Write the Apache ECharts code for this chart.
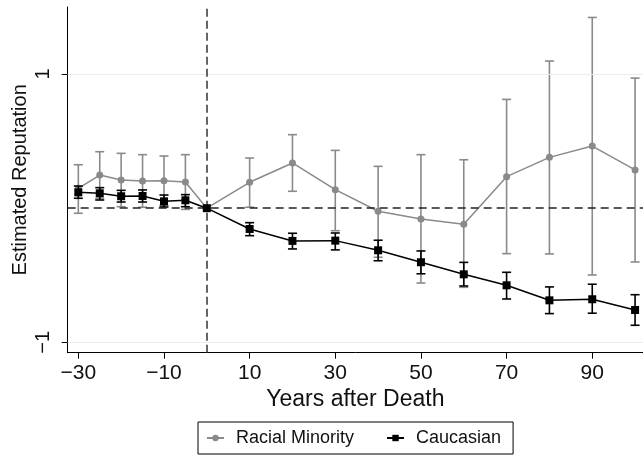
<!DOCTYPE html>
<html lang="en">
<head>
    <meta charset="UTF-8">
    <title>Estimated Reputation</title>
    <script type="text/javascript" src="https://cdn.jsdelivr.net/npm/echarts@6/dist/echarts.min.js"></script>
</head>
<body>
<div id="chart"></div>
</body>
<style>
    * {
        padding: 0;
        margin: 0;
    }

    html, body {
        width: 100%;
        height: 100%;
        background-color: white;
    }

    #chart {
        width: 643px;
        height: 456px;
    }
</style>
<script>

    // years relative to death
    const years = [-30, -25, -20, -15, -10, -5, 0, 10, 20, 30, 40, 50, 60, 70, 80, 90, 100]

    // racial minority: point estimate and confidence band
    const minorityMean = [0.148, 0.247, 0.210, 0.203, 0.205, 0.195, 0, 0.193, 0.337, 0.138, -0.023, -0.080, -0.120, 0.235, 0.379, 0.463, 0.285]
    const minorityHi = [0.324, 0.421, 0.409, 0.399, 0.389, 0.399, 0, 0.374, 0.548, 0.431, 0.312, 0.399, 0.361, 0.811, 1.097, 1.422, 0.970]
    const minorityLo = [-0.038, 0.073, 0.011, 0.007, 0.021, -0.009, 0, 0.007, 0.126, -0.168, -0.366, -0.558, -0.590, -0.339, -0.341, -0.498, -0.401]

    // caucasian: point estimate and confidence band
    const caucasianMean = [0.118, 0.111, 0.089, 0.091, 0.051, 0.059, 0, -0.155, -0.244, -0.242, -0.314, -0.403, -0.493, -0.575, -0.687, -0.679, -0.759]
    const caucasianHi = [0.165, 0.153, 0.133, 0.136, 0.098, 0.101, 0, -0.108, -0.187, -0.185, -0.239, -0.319, -0.404, -0.478, -0.587, -0.567, -0.645]
    const caucasianLo = [0.074, 0.061, 0.046, 0.046, 0.009, 0.011, 0, -0.205, -0.304, -0.311, -0.392, -0.489, -0.580, -0.677, -0.786, -0.783, -0.873]

    // axis ticks
    const xTicks = [-30, -10, 10, 30, 50, 70, 90]
    const yTicks = [-1, 1]

    const font = "'Liberation Sans', Arial, sans-serif"
    const gray = '#8a8a8a'
    const minus = v => String(v).replace('-', '\u2212')

    const errorBars = function (name, lo, hi, color, z) {
        return {
            type: 'custom',
            name: name,
            z: z,
            silent: true,
            data: years.map((y, i) => [y, lo[i], hi[i]]),
            encode: {x: 0, y: [1, 2]},
            renderItem(params, api) {
                const x = api.value(0), l = api.value(1), h = api.value(2)
                if (l === h) return
                const top = api.coord([x, h])
                const bot = api.coord([x, l])
                const w = 4.5
                const style = {stroke: color, lineWidth: 1.6}
                return {
                    type: 'group',
                    children: [
                        {type: 'line', shape: {x1: top[0], y1: top[1], x2: bot[0], y2: bot[1]}, style: style},
                        {type: 'line', shape: {x1: top[0] - w, y1: top[1], x2: top[0] + w, y2: top[1]}, style: style},
                        {type: 'line', shape: {x1: bot[0] - w, y1: bot[1], x2: bot[0] + w, y2: bot[1]}, style: style}
                    ]
                }
            }
        }
    }

    const chart = echarts.init(document.getElementById('chart'))

    chart.setOption({
        animation: false,
        textStyle: {fontFamily: font},
        grid: {left: 67.7, right: 0, top: 7, bottom: 103.3, outerBoundsMode: 'none', containLabel: false},
        legend: {
            data: ['Racial Minority', 'Caucasian'],
            left: 198,
            top: 422,
            orient: 'horizontal',
            borderColor: '#000',
            borderWidth: 1,
            borderRadius: 0,
            padding: [7, 12, 7, 8],
            itemGap: 32,
            itemWidth: 17,
            itemHeight: 8,
            textStyle: {fontSize: 18, color: '#111', fontFamily: font, padding: [0, 0, 0, 7]}
        },
        xAxis: {
            type: 'value',
            min: -32.48,
            max: 101.85,
            name: 'Years after Death',
            nameLocation: 'middle',
            nameGap: 32,
            nameTextStyle: {fontSize: 23, color: '#111', fontFamily: font},
            axisLine: {show: true, onZero: false, lineStyle: {color: '#000', width: 1}},
            axisTick: {show: true, customValues: xTicks, length: 6, lineStyle: {color: '#000', width: 1}},
            axisLabel: {customValues: xTicks, fontSize: 21, color: '#111', margin: 10, formatter: minus},
            splitLine: {show: false}
        },
        yAxis: {
            type: 'value',
            min: -1.0775,
            max: 1.5,
            name: 'Estimated Reputation',
            nameLocation: 'middle',
            nameRotate: 90,
            nameGap: 37,
            nameMoveOverlap: false,
            nameTextStyle: {fontSize: 20, color: '#111', fontFamily: font},
            axisLine: {show: true, onZero: false, lineStyle: {color: '#000', width: 1}},
            axisTick: {show: true, customValues: yTicks, length: 6, lineStyle: {color: '#000', width: 1}},
            axisLabel: {customValues: yTicks, fontSize: 20, color: '#111', rotate: 90, margin: 14, formatter: minus},
            splitLine: {show: false}
        },
        series: [
            {
                type: 'line',
                name: 'ref',
                data: [],
                z: 1,
                silent: true,
                markLine: {
                    silent: true,
                    symbol: 'none',
                    label: {show: false},
                    animation: false,
                    data: [
                        {yAxis: 1, lineStyle: {color: '#e6eeee', width: 1, type: 'solid'}},
                        {yAxis: -1, lineStyle: {color: '#e6eeee', width: 1, type: 'solid'}},
                        {yAxis: 0, lineStyle: {color: '#222', width: 1.5, type: [8, 5]}},
                        {xAxis: 0, lineStyle: {color: '#333', width: 1.5, type: [8, 4]}}
                    ]
                }
            },
            errorBars('minority bars', minorityLo, minorityHi, gray, 2),
            {
                type: 'line',
                name: 'Racial Minority',
                z: 3,
                data: years.map((y, i) => [y, minorityMean[i]]),
                symbol: 'circle',
                symbolSize: 7,
                showAllSymbol: true,
                itemStyle: {color: gray},
                lineStyle: {color: gray, width: 1.5}
            },
            errorBars('caucasian bars', caucasianLo, caucasianHi, '#000', 4),
            {
                type: 'line',
                name: 'Caucasian',
                z: 5,
                data: years.map((y, i) => [y, caucasianMean[i]]),
                symbol: 'rect',
                symbolSize: 8,
                showAllSymbol: true,
                itemStyle: {color: '#000'},
                lineStyle: {color: '#000', width: 1.5}
            }
        ]
    })

</script>
</html>
